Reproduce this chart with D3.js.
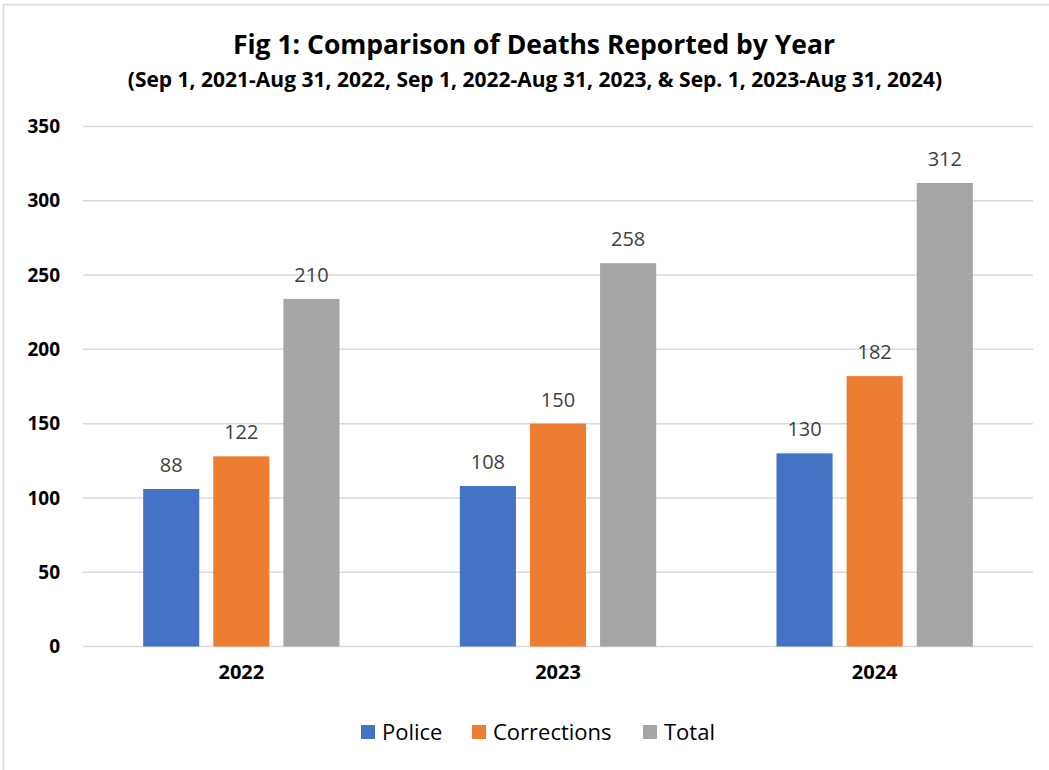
<!DOCTYPE html>
<html>
<head>
<meta charset="utf-8">
<script src="https://cdn.jsdelivr.net/npm/d3@7"></script>
<style>
  body { margin: 0; background: #fff; }
  svg { display: block; font-family: "Open Sans", sans-serif; }
</style>
</head>
<body>
<svg class="chart"></svg>
<script>
var years = ["2022", "2023", "2024"];
var series_names = ["Police", "Corrections", "Total"];
// bar heights as drawn
var police = [106, 108, 130];
var corrections = [128, 150, 182];
var total = [234, 258, 312];
// data labels as printed
var police_labels = ["88", "108", "130"];
var corrections_labels = ["122", "150", "182"];
var total_labels = ["210", "258", "312"];
var y_ticks = [0, 50, 100, 150, 200, 250, 300, 350];

var colors = ["#4472c4", "#ed7d31", "#a5a5a5"];
var width = 1049, height = 770;

var values = [police, corrections, total];
var labels = [police_labels, corrections_labels, total_labels];

var svg = d3.select(".chart").attr("width", width).attr("height", height);

svg.append("rect")
    .attr("x", 3.5).attr("y", 4.5)
    .attr("width", 1100).attr("height", 900)
    .attr("fill", "none").attr("stroke", "#d9d9d9").attr("stroke-width", 1.5);

svg.append("text")
    .attr("x", 534).attr("y", 54)
    .attr("text-anchor", "middle")
    .style("font-size", "26.5px").style("font-weight", "bold").attr("fill", "#000")
    .text("Fig 1: Comparison of Deaths Reported by Year");

svg.append("text")
    .attr("x", 535).attr("y", 87)
    .attr("text-anchor", "middle")
    .style("font-size", "21px").style("font-weight", "bold").attr("fill", "#000")
    .text("(Sep 1, 2021-Aug 31, 2022, Sep 1, 2022-Aug 31, 2023, & Sep. 1, 2023-Aug 31, 2024)");

var x0 = d3.scaleBand()
    .domain(years)
    .range([83, 1033])
    .paddingInner(0.38)
    .paddingOuter(0.19);

var x1 = d3.scaleBand()
    .domain(series_names)
    .range([0, x0.bandwidth()])
    .paddingInner(0.2);

var y = d3.scaleLinear()
    .domain([0, 350])
    .range([646.5, 126.5]);

// gridlines
svg.append("g").selectAll("line")
    .data(y_ticks)
  .enter().append("line")
    .attr("x1", 83).attr("x2", 1033)
    .attr("y1", function(d) { return y(d); })
    .attr("y2", function(d) { return y(d); })
    .attr("stroke", "#d9d9d9").attr("stroke-width", 1.5);

// y axis
var yAxis = d3.axisLeft(y).tickValues(y_ticks).tickSize(0).tickPadding(0);
var yg = svg.append("g")
    .attr("transform", "translate(60,0)")
    .call(yAxis);
yg.select(".domain").remove();
yg.selectAll("text")
    .style("font-size", "19px").style("font-weight", "bold")
    .attr("fill", "#000").attr("font-family", "'Open Sans', sans-serif");

// x axis
var xAxis = d3.axisBottom(x0).tickSize(0).tickPadding(0);
var xg = svg.append("g")
    .attr("transform", "translate(0,665)")
    .call(xAxis);
xg.select(".domain").remove();
xg.selectAll("text")
    .style("font-size", "20px").style("font-weight", "bold")
    .attr("fill", "#000").attr("font-family", "'Open Sans', sans-serif");

// bars
var group = svg.append("g").selectAll("g")
    .data(years)
  .enter().append("g")
    .attr("transform", function(d) { return "translate(" + x0(d) + ",0)"; });

series_names.forEach(function(s, si) {
  group.append("rect")
      .attr("x", x1(s))
      .attr("y", function(d, i) { return y(values[si][i]); })
      .attr("width", x1.bandwidth())
      .attr("height", function(d, i) { return y(0) - y(values[si][i]); })
      .attr("fill", colors[si]);

  group.append("text")
      .attr("x", x1(s) + x1.bandwidth() / 2)
      .attr("y", function(d, i) { return y(values[si][i]) - 17; })
      .attr("text-anchor", "middle")
      .style("font-size", "20px").attr("fill", "#404040")
      .text(function(d, i) { return labels[si][i]; });
});

// legend
var legend_x = [361, 472, 643];
var legend = svg.append("g").selectAll("g")
    .data(series_names)
  .enter().append("g")
    .attr("transform", function(d, i) { return "translate(" + legend_x[i] + ",725)"; });

legend.append("rect")
    .attr("width", 14).attr("height", 14)
    .attr("fill", function(d, i) { return colors[i]; });

legend.append("text")
    .attr("x", 21).attr("y", 15)
    .style("font-size", "22px").attr("fill", "#000")
    .text(function(d) { return d; });
</script>
</body>
</html>
